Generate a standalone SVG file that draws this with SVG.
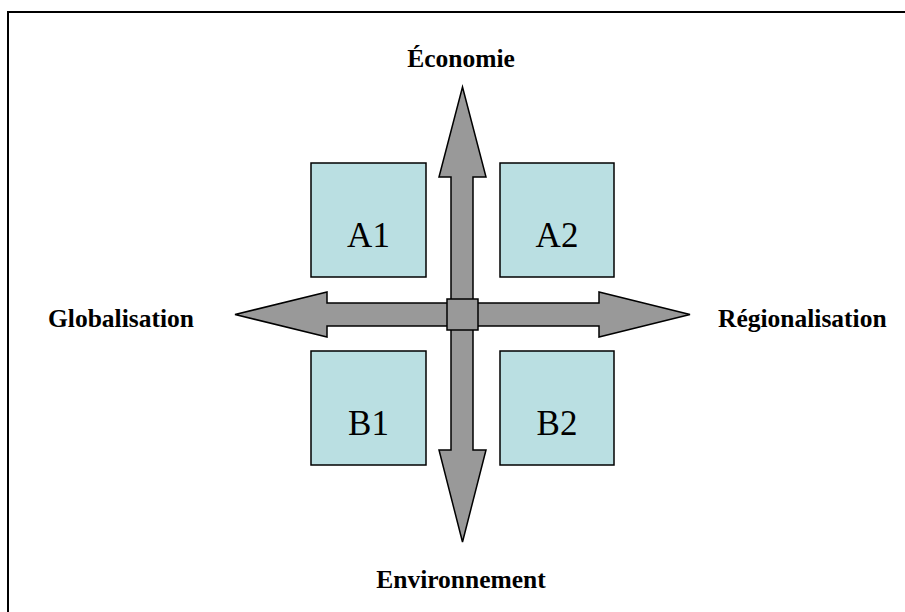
<svg xmlns="http://www.w3.org/2000/svg" width="905" height="612" viewBox="0 0 905 612">
<style>
.box{fill:#BADFE2;stroke:#000;stroke-width:1.5}
.arr{fill:#999999;stroke:#000;stroke-width:1.5;stroke-linejoin:miter}
.lbl{font-family:"Liberation Serif","Times New Roman",serif;font-weight:bold;font-size:25.5px;fill:#000}
.bl{font-family:"Liberation Serif","Times New Roman",serif;font-size:35px;fill:#000;text-anchor:middle}
</style>
<rect x="8" y="12" width="905" height="610" fill="#fff" stroke="#000" stroke-width="2"/>
<g id="A1"><rect class="box" x="311" y="163" width="115" height="114"/><text class="bl" x="368.5" y="247">A1</text></g>
<g id="A2"><rect class="box" x="500" y="163" width="114" height="114"/><text class="bl" x="557" y="247">A2</text></g>
<g id="B1"><rect class="box" x="311" y="351" width="115" height="114"/><text class="bl" x="368.5" y="435">B1</text></g>
<g id="B2"><rect class="box" x="500" y="351" width="114" height="114"/><text class="bl" x="557" y="435">B2</text></g>
<g id="connectors">
<polygon class="arr" points="462.5,87 486,177 473,177 473,450 486,450 462.5,542 439,450 451,450 451,177 439,177"/>
<polygon class="arr" points="235,314.5 327,292 327,303 599,303 599,292 690,314.5 599,337 599,326 327,326 327,337"/>
<rect class="arr" x="447" y="299" width="31" height="31"/>
</g>
<g id="economie"><text class="lbl" x="461" y="67" text-anchor="middle">Économie</text></g>
<g id="globalisation"><text class="lbl" x="48" y="327">Globalisation</text></g>
<g id="regionalisation"><text class="lbl" x="718" y="327">Régionalisation</text></g>
<g id="environnement"><text class="lbl" x="461" y="588" text-anchor="middle">Environnement</text></g>
</svg>
